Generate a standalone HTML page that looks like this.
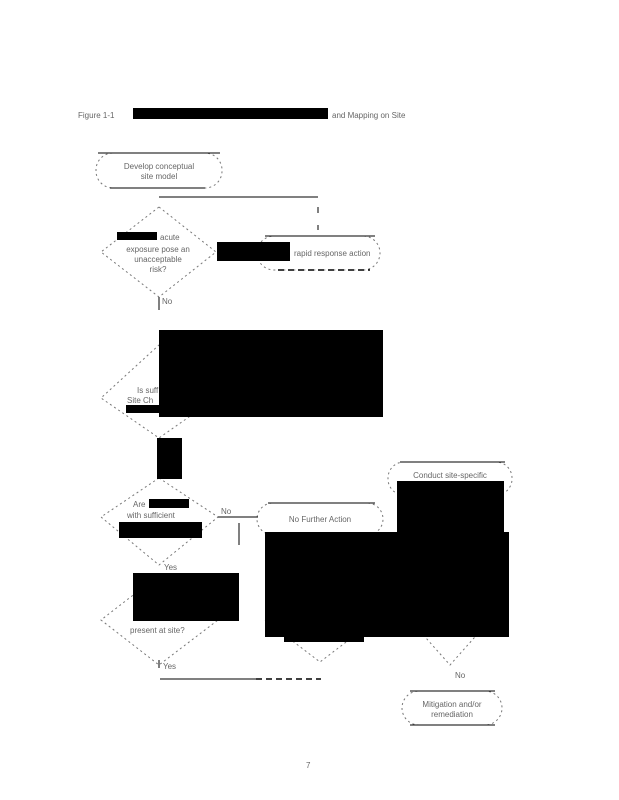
<!DOCTYPE html>
<html><head><meta charset="utf-8"><style>
html,body{margin:0;padding:0;background:#fff;}
svg{display:block;}
text{font-family:"Liberation Sans",sans-serif;font-size:8px;fill:#666;}
</style></head><body>
<svg width="619" height="800" viewBox="0 0 619 800" xmlns="http://www.w3.org/2000/svg">
<g fill="none" stroke="#777" stroke-width="1" stroke-dasharray="2,3">
<rect x="96" y="153" width="126" height="35" rx="17"/>
<rect x="257" y="236" width="123" height="34" rx="17"/>
<rect x="257" y="503" width="126" height="32" rx="16"/>
<rect x="388" y="462" width="124" height="33" rx="16"/>
<rect x="402" y="691" width="100" height="34" rx="17"/>
<polygon points="159,207 216,252 159,297 101,252"/>
<polygon points="159,345 216,398 159,438 101,398"/>
<polygon points="159,478 218,517 159,565 101,517"/>
<polygon points="159,575 218,620 159,665 101,620"/>
<polyline points="265,620 320,662 375,620"/>
<polyline points="410,620 450,665 490,620"/>
</g>
<g stroke="#000" stroke-width="1" fill="none">
<line x1="98" y1="153" x2="220" y2="153"/>
<line x1="110" y1="188" x2="205" y2="188"/>
<line x1="159" y1="197" x2="318" y2="197"/>
<line x1="318" y1="207" x2="318" y2="213" />
<line x1="318" y1="225" x2="318" y2="230"/>
<line x1="265" y1="236" x2="375" y2="236"/>
<line x1="278" y1="270" x2="370" y2="270" stroke-dasharray="6,4" stroke-width="1.5"/>
<line x1="159" y1="297" x2="159" y2="310"/>
<line x1="218" y1="517" x2="258" y2="517"/>
<line x1="239" y1="523" x2="239" y2="545"/>
<line x1="268" y1="503" x2="375" y2="503"/>
<line x1="400" y1="462" x2="505" y2="462"/>
<line x1="160" y1="679" x2="256" y2="679"/>
<line x1="256" y1="679" x2="321" y2="679" stroke-dasharray="6,4" stroke-width="1.5"/>
<line x1="410" y1="691" x2="495" y2="691"/>
<line x1="410" y1="725" x2="495" y2="725"/>
<line x1="159" y1="660" x2="159" y2="668"/>
</g>
<g fill="#000">
<rect x="133" y="108" width="195" height="11"/>
<rect x="217" y="242" width="73" height="19"/>
<rect x="117" y="232" width="40" height="8"/>
<rect x="159" y="330" width="224" height="87"/>
<rect x="126" y="405" width="34" height="8"/>
<rect x="157" y="438" width="25" height="41"/>
<rect x="149" y="499" width="40" height="9"/>
<rect x="119" y="522" width="83" height="16"/>
<rect x="397" y="481" width="107" height="52"/>
<rect x="265" y="532" width="244" height="105"/>
<rect x="284" y="636" width="80" height="6"/>
<rect x="133" y="573" width="106" height="48"/>
</g>
<text x="78" y="118">Figure 1-1</text>
<text x="332" y="118">and Mapping on Site</text>
<text x="159" y="169" text-anchor="middle">Develop conceptual</text>
<text x="159" y="179" text-anchor="middle">site model</text>
<text x="160" y="240">acute</text>
<text x="158" y="252" text-anchor="middle">exposure pose an</text>
<text x="158" y="262" text-anchor="middle">unacceptable</text>
<text x="158" y="272" text-anchor="middle">risk?</text>
<text x="294" y="256">rapid response action</text>
<text x="162" y="304">No</text>
<text x="137" y="393">Is suff</text>
<text x="127" y="403">Site Ch</text>
<text x="133" y="507">Are</text>
<text x="127" y="518">with sufficient</text>
<text x="221" y="514">No</text>
<text x="320" y="522" text-anchor="middle">No Further Action</text>
<text x="450" y="478" text-anchor="middle">Conduct site-specific</text>
<text x="164" y="570">Yes</text>
<text x="130" y="633">present at site?</text>
<text x="163" y="669">Yes</text>
<text x="455" y="678">No</text>
<text x="452" y="707" text-anchor="middle">Mitigation and/or</text>
<text x="452" y="717" text-anchor="middle">remediation</text>
<text x="306" y="768">7</text>
</svg>
</body></html>
